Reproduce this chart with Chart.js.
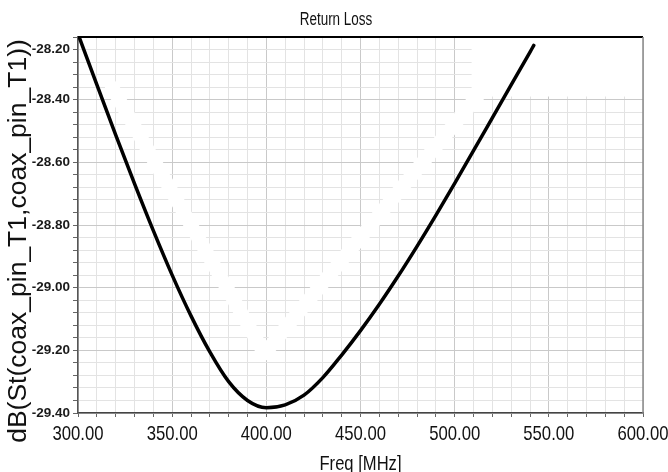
<!DOCTYPE html>
<html><head><meta charset="utf-8">
<script src="https://cdn.jsdelivr.net/npm/chart.js@4"></script>
<style>html,body{margin:0;padding:0;background:#fff;}#wrap{width:668px;height:472px;}</style>
</head><body><div id="wrap"><canvas id="c" width="668" height="472"></canvas></div>
<script>
// ---- data ----
const freqMHz = [300,310,320,330,340,350,360,370,380,390,400,410,420,430,440,450,460,470,480,490,500,510,520,530,540,542];
const returnLossDb = [-28.19,-28.352,-28.512,-28.668,-28.818,-28.96,-29.09,-29.205,-29.30,-29.36,-29.383,-29.374,-29.343,-29.287,-29.215,-29.137,-29.053,-28.963,-28.868,-28.769,-28.667,-28.563,-28.458,-28.353,-28.248,-28.227];
// faint erased (white) trace visible behind the curve
const ghostFreqMHz = [318,399,512,526];
const ghostDb = [-28.36,-29.21,-28.39,-28.27];
// erased rectangle (x from, x to, y from, y to) in axis units
const maskBox = [509,600,-28.2,-28.39];
// axis ticks
const xTicks = [300,350,400,450,500,550,600];
const yTicks = [-29.4,-29.2,-29.0,-28.8,-28.6,-28.4,-28.2];
const xMinorStep = 10;
const yMinorStep = 0.04;
const titleText = 'Return Loss';
const xTitle = 'Freq [MHz]';
const yTitle = 'dB(St(coax_pin_T1,coax_pin_T1))';

const SANS = '"Liberation Sans", Arial, sans-serif';

const xAll = [];
for (let v = xTicks[0]; v <= xTicks[xTicks.length-1] + 1e-9; v += xMinorStep) xAll.push(Math.round(v));
const yAll = [];
for (let i = 0; ; i++) { const v = Math.round((yTicks[0] + i*yMinorStep)*100)/100; if (v > yTicks[yTicks.length-1] + 1e-9) break; yAll.push(v); }
const isXMajor = v => xTicks.some(t => Math.abs(t - v) < 1e-6);
const isYMajor = v => yTicks.some(t => Math.abs(t - v) < 1e-6);
const yTop = yTicks[yTicks.length-1];
// the top label sits one minor step below the frame, as in the reference
function yLabel(v) {
  if (Math.abs(v - yTop) < 1e-6) return '';
  if (Math.abs(v - (yTop - yMinorStep)) < 1e-6) return yTop.toFixed(2);
  return isYMajor(v) ? Number(v).toFixed(2) : '';
}

// narrow (Arial-Narrow-like) text: Liberation Sans squeezed horizontally
function narrowText(ctx, text, x, y, size, squeeze, color) {
  ctx.save();
  ctx.translate(x, y);
  ctx.scale(squeeze, 1);
  ctx.font = size + 'px ' + SANS;
  ctx.fillStyle = color;
  ctx.textAlign = 'center';
  ctx.textBaseline = 'alphabetic';
  ctx.fillText(text, 0, 0);
  ctx.restore();
}

const decor = {
  id: 'decor',
  beforeDatasetsDraw(chart) {
    const {ctx, scales: {x, y}} = chart;
    const x0 = x.getPixelForValue(maskBox[0]), x1 = x.getPixelForValue(maskBox[1]);
    const y0 = y.getPixelForValue(maskBox[2]), y1 = y.getPixelForValue(maskBox[3]);
    ctx.save(); ctx.fillStyle = '#fff';
    ctx.fillRect(x0, y0, x1 - x0, y1 - y0);
    ctx.restore();
  },
  afterDatasetsDraw(chart) {
    const {ctx, chartArea: a} = chart;
    ctx.save();
    ctx.strokeStyle = '#000'; ctx.lineWidth = 2;
    ctx.beginPath(); ctx.moveTo(a.left, a.top); ctx.lineTo(a.right, a.top); ctx.stroke();
    ctx.strokeStyle = '#8a8a8a'; ctx.lineWidth = 1.5;
    ctx.beginPath(); ctx.moveTo(a.right, a.top); ctx.lineTo(a.right, a.bottom); ctx.stroke();
    ctx.restore();
  },
  afterDraw(chart) {
    const {ctx, scales: {x}} = chart;
    // title
    narrowText(ctx, titleText, 336, 25, 17.5, 0.77, '#111');
    // x tick labels
    xTicks.forEach(v => narrowText(ctx, v.toFixed(2), x.getPixelForValue(v), 439.5, 21, 0.795, '#111'));
    // x title
    narrowText(ctx, xTitle, (chart.chartArea.left + chart.chartArea.right) / 2, 470, 21, 0.79, '#111');
    // y title
    ctx.save();
    ctx.translate(19, 241); ctx.rotate(-Math.PI/2);
    ctx.fillStyle = '#111';
    ctx.font = '26.5px ' + SANS;
    ctx.textAlign = 'center'; ctx.textBaseline = 'middle';
    ctx.fillText(yTitle, 0, 0);
    ctx.restore();
  }
};

new Chart(document.getElementById('c'), {
  type: 'line',
  data: {
    datasets: [
      { label: 'S11', data: freqMHz.map((f,i) => ({x: f, y: returnLossDb[i]})),
        borderColor: '#000', borderWidth: 3.5, pointRadius: 0, tension: 0.4,
        cubicInterpolationMode: 'monotone', borderCapStyle: 'round', order: 1 },
      { label: 'ghost', data: ghostFreqMHz.map((f,i) => ({x: f, y: ghostDb[i]})),
        borderColor: '#ffffff', borderWidth: 14, pointRadius: 0, tension: 0,
        borderJoinStyle: 'round', borderCapStyle: 'round', order: 2 }
    ]
  },
  options: {
    responsive: false, animation: false, devicePixelRatio: 1,
    layout: { padding: { top: 37, right: 25, left: 0, bottom: 0 } },
    plugins: { legend: { display: false }, title: { display: false }, tooltip: { enabled: false } },
    scales: {
      x: {
        type: 'linear', min: xTicks[0], max: xTicks[xTicks.length-1],
        afterBuildTicks: s => { s.ticks = xAll.map(v => ({value: v})); },
        afterFit: s => { s.height = 59; s.paddingLeft = 0; s.paddingRight = 25; },
        ticks: { autoSkip: false, maxRotation: 0, padding: 3, callback: () => '' },
        grid: { color: c => (c.tick && isXMajor(c.tick.value)) ? '#c9c9c9' : '#e3e3e3',
          lineWidth: 1, tickLength: 4, tickColor: '#666' },
        border: { color: '#444', width: 1.5 },
        title: { display: false }
      },
      y: {
        type: 'linear', min: yTicks[0], max: yTop,
        afterBuildTicks: s => { s.ticks = yAll.map(v => ({value: v})); },
        afterFit: s => { s.width = 78; },
        ticks: { autoSkip: false, padding: 3, color: '#1a1a1a',
          font: { family: SANS, size: 13.5, weight: 'bold' },
          callback: v => yLabel(v) },
        grid: { color: c => (c.tick && isYMajor(c.tick.value)) ? '#c9c9c9' : '#e3e3e3',
          lineWidth: 1, tickLength: 5, tickColor: '#666' },
        border: { color: '#555', width: 1.5 }
      }
    }
  },
  plugins: [decor]
});
</script></body></html>
